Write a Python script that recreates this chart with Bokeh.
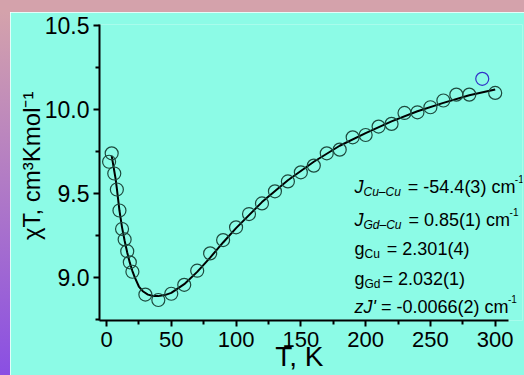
from bokeh.plotting import figure
from bokeh.models import Range1d, FixedTicker, PrintfTickFormatter, Label, Div
from bokeh.layouts import column, row
from bokeh.embed import file_html
from bokeh.resources import INLINE

# ---------------- data ----------------
T_data = [2, 4, 6, 8, 10, 12, 14, 16, 18, 20, 30, 40, 50, 60, 70, 80, 90, 100,
          110, 120, 130, 140, 150, 160, 170, 180, 190, 200, 210, 220, 230, 240,
          250, 260, 270, 280, 300]
chiT_data = [9.69, 9.74, 9.62, 9.525, 9.40, 9.29, 9.228, 9.158, 9.092, 9.036,
             8.90, 8.868, 8.905, 8.958, 9.042, 9.145, 9.224, 9.30, 9.379, 9.442,
             9.514, 9.573, 9.627, 9.667, 9.74, 9.762, 9.835, 9.849, 9.899, 9.915,
             9.980, 9.984, 10.014, 10.054, 10.089, 10.089, 10.099]
T_outlier = [290]
chiT_outlier = [10.183]

T_fit = [4, 5, 6, 7, 8, 9, 10, 12, 14, 16, 18, 20, 22, 25, 28, 32, 36, 40, 45,
         50, 60, 70, 80, 90, 100, 120, 140, 160, 180, 200, 220, 240, 260, 280, 300]
chiT_fit = [9.725, 9.68, 9.635, 9.59, 9.53, 9.465, 9.40, 9.30, 9.22, 9.15, 9.09,
            9.04, 9.00, 8.948, 8.92, 8.90, 8.892, 8.891, 8.897, 8.91, 8.962, 9.035,
            9.12, 9.21, 9.295, 9.45, 9.58, 9.69, 9.785, 9.86, 9.93, 9.99, 10.04,
            10.085, 10.12]

x_ticks = [0, 50, 100, 150, 200, 250, 300]
x_minor = [25, 75, 125, 175, 225, 275]
y_ticks = [9.0, 9.5, 10.0, 10.5]
y_minor = [8.75, 9.25, 9.75, 10.25]

x_title = "T, K"
y_title = "χT, cm³Kmol⁻¹"

# ---------------- style ----------------
CYAN = "#8cfbe6"
PINK = "#d4a2ab"
PURPLE = "#8a4fe3"
FONT = "Liberation Sans"
NBSP = "\u00a0"

p = figure(frame_width=423, frame_height=296,
           x_range=Range1d(-5.4, 321.07), y_range=Range1d(8.746, 10.506),
           output_backend="svg", toolbar_location=None,
           min_border_left=89, min_border_right=2,
           min_border_top=12, min_border_bottom=55,
           background_fill_color=CYAN, border_fill_color=CYAN,
           outline_line_color=None, margin=0)
p.xgrid.visible = False
p.ygrid.visible = False

p.xaxis.ticker = FixedTicker(ticks=x_ticks, minor_ticks=x_minor)
p.yaxis.ticker = FixedTicker(ticks=y_ticks, minor_ticks=y_minor)
p.yaxis.formatter = PrintfTickFormatter(format="%.1f")
p.xaxis.bounds = (-5.4, 310.5)
for ax in (p.xaxis[0], p.yaxis[0]):
    ax.axis_line_width = 2
    ax.axis_line_color = "black"
    ax.major_tick_line_width = 2
    ax.minor_tick_line_width = 2
    ax.major_tick_out = 6
    ax.major_tick_in = 0
    ax.minor_tick_out = 4
    ax.minor_tick_in = 0
    ax.major_label_text_font = FONT
    ax.major_label_text_color = "black"
    ax.axis_label_text_font = FONT
    ax.axis_label_text_font_style = "normal"
    ax.axis_label_text_color = "black"
p.xaxis.major_label_text_font_size = "22px"
p.yaxis.major_label_text_font_size = "23px"
p.xaxis.major_label_standoff = 5
p.yaxis.major_label_standoff = 4
# trailing / leading no-break spaces nudge the centred titles to where the original has them
p.xaxis.axis_label = x_title + NBSP * 3
p.xaxis.axis_label_text_font_size = "28px"
p.xaxis.axis_label_standoff = -9
p.yaxis.axis_label = NBSP * 2 + y_title
p.yaxis.axis_label_text_font_size = "24px"
p.yaxis.axis_label_standoff = -3

# fit curve and data
p.line(T_fit, chiT_fit, line_color="black", line_width=2)
p.scatter(T_data, chiT_data, marker="circle", size=13, fill_color=None,
          line_color="#1d4a3e", line_width=1.2)
p.scatter(T_outlier, chiT_outlier, marker="circle", size=13, fill_color=None,
          line_color="#3232c8", line_width=1.2)

# ---------------- fit-parameter text ----------------
W = {' ': 278, '=': 584, '-': 333, '.': 278, '(': 333, ')': 333, 'c': 500,
     'm': 833, 'C': 722, 'u': 556, 'G': 778, 'd': 556, 'g': 556, 'J': 500,
     'z': 500, "'": 191, '–': 556}


def tw(s, size):
    return sum(W.get(ch, 556) for ch in s) * size / 1000.0


MAIN, SUB, SUP = 18, 12, 10
ANN_X = 191.4
rows = [
    (9.5387, [("J", "it"), ("Cu–Cu", "subit"), (" = -54.4(3) cm", "n"), ("-1", "sup")]),
    (9.3407, [("J", "it"), ("Gd–Cu", "subit"), (" = 0.85(1) cm", "n"), ("-1", "sup")]),
    (9.1724, [("g", "n"), ("Cu", "sub"), (" = 2.301(4)", "n")]),
    (8.9941, [("g", "n"), ("Gd", "sub"), ("= 2.032(1)", "n")]),
    (8.8252, [("zJ'", "it"), (" = -0.0066(2) cm", "n"), ("-1", "sup")]),
]
for yb, pieces in rows:
    off = 0.0
    for txt, st in pieces:
        size = {"n": MAIN, "it": MAIN, "sub": SUB, "subit": SUB, "sup": SUP}[st]
        yoff = {"sub": -5, "subit": -5, "sup": 8}.get(st, 0)
        body = txt.lstrip(" ")
        off += tw(txt[:len(txt) - len(body)], size)   # leading blanks become offset
        p.add_layout(Label(x=ANN_X, y=yb, x_offset=off + (-0.5 if st == "sup" else 0),
                           y_offset=yoff, text=body,
                           text_font=FONT, text_font_size=f"{size}px",
                           text_font_style="italic" if st in ("it", "subit") else "normal",
                           text_color="black", text_baseline="alphabetic",
                           text_align="left"))
        off += tw(body, size) + (2 if st in ("sub", "subit") else 0)

top_strip = Div(text="", width=524, height=12, margin=0,
                styles={"background": PINK})
left_strip = Div(text="", width=10, height=363, margin=0,
                 styles={"background": f"linear-gradient(to bottom, {PINK}, {PURPLE})"})
layout = column(top_strip, row(left_strip, p, spacing=0, margin=0), spacing=0, margin=0)

open("out.html", "w").write(file_html(layout, INLINE))
